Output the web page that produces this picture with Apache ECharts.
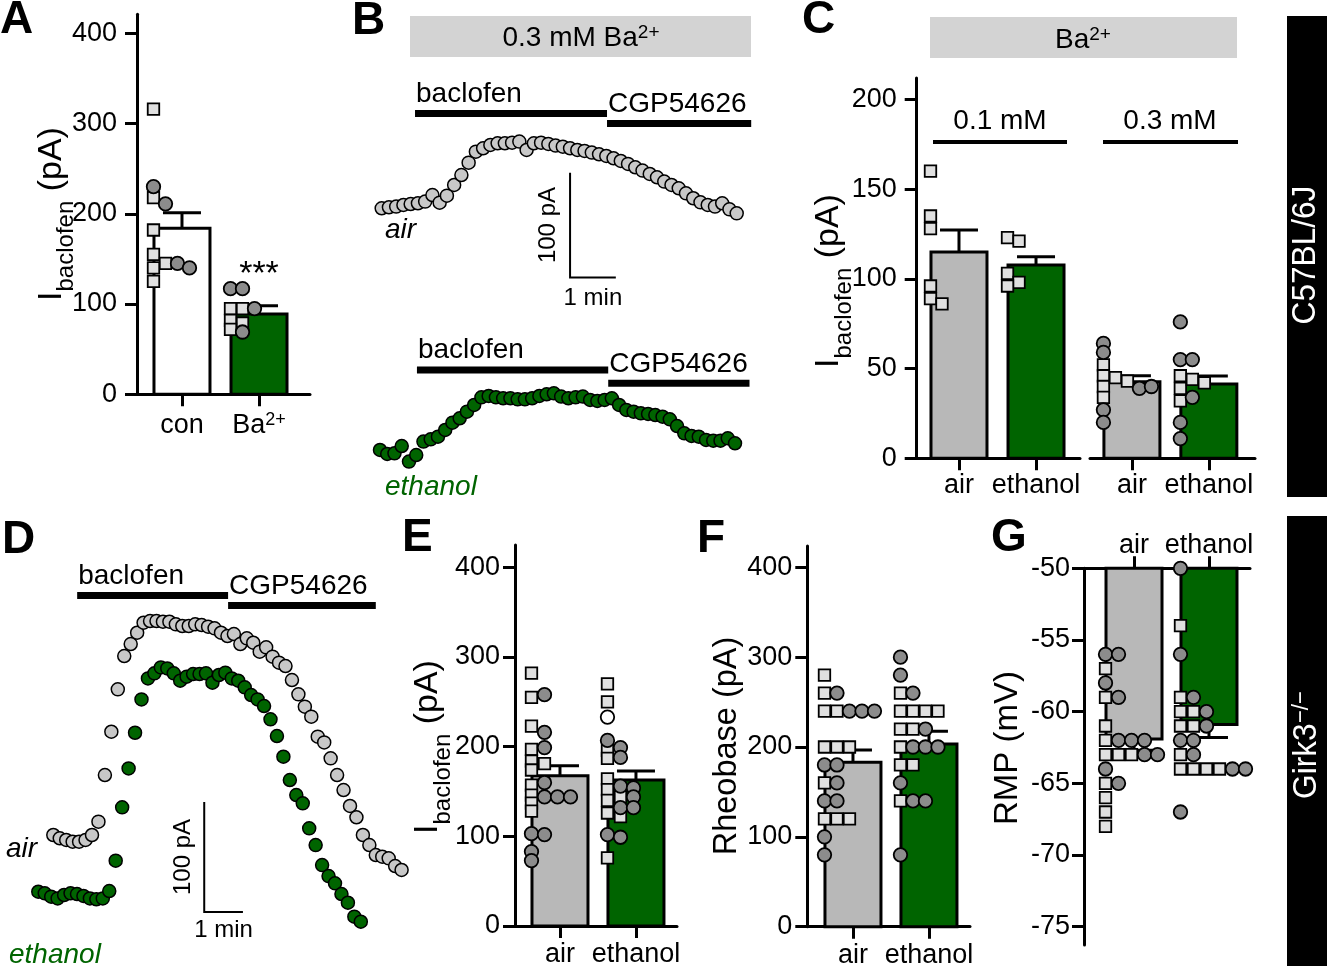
<!DOCTYPE html>
<html><head><meta charset="utf-8"><title>Figure</title>
<script src="https://cdn.jsdelivr.net/npm/echarts@6.0.0/dist/echarts.min.js"></script>
<style>html,body{margin:0;padding:0;background:#fff;}#chart{width:1327px;height:966px;}</style>
</head><body><div id="chart"></div>
<script>
// ======================= DATA =======================
// Panel A : I_baclofen (pA), control vs Ba2+
const A_CATS = ['con', 'Ba2+'];
const A_MEAN = [184, 89];
const A_SEM = [17, 9];
// points: [value, column]
const A_SQUARES = [[[316,0],[218,0],[182,0],[155,0],[145,1],[140,0],[125,0]], [[95,0],[95,1],[82,0],[79,1],[72,0]]];
const A_CIRCLES = [[[230,0],[211,1],[145,2],[140,3]], [[117,0],[117,1],[95,2],[69,1]]];
const A_Y_TICKS = [0, 100, 200, 300, 400];

// Panel B : example traces in 0.3 mM Ba2+ (pA, relative to baseline)
const B_AIR = [0,1,1.6,3.2,4.1,4.8,6.4,12.7,5.4,12.1,22.3,31.8,43.6,54.1,57.3,60.5,62.1,62.1,62.7,63.7,55.7,62.1,62.7,61.5,59.9,58.9,57.3,55.7,54.8,53.2,51.6,50,47.8,45.2,42.4,39.2,36,32.8,29.6,25.5,22.3,19.1,14.3,9.6,5.7,3.2,1.6,4.8,-1,-4.8];
const B_ETH = [0,-3.8,-3.2,3.8,-11.1,-4.8,8,10.2,12.7,19.1,26.1,30.3,36.6,43,50.3,51.6,50.3,49.4,49.4,48.4,48.4,49.4,51.6,53.2,54.1,51,49.4,50.3,51,47.8,46.8,47.8,49.4,43,38.2,36.6,35,34.4,33.4,31.8,29.3,22.9,15.9,13.4,12.7,9.6,8.9,8.9,11.1,6.4];
const B_SAMPLE_S = 9.5;
const B_AIR_EPOCHS = [['baclofen', 4.6, 31.1], ['CGP54626', 31.1, 51.0]];
const B_ETH_EPOCHS = [['baclofen', 5.1, 31.5], ['CGP54626', 31.5, 51.0]];

// Panel C : I_baclofen in Ba2+ (0.1 / 0.3 mM)
const C_CATS = ['air', 'ethanol'];
const C_GROUPS = ['0.1 mM', '0.3 mM'];
const C01_MEAN = [115, 107.7];
const C01_SEM = [12.2, 4.6];
const C03_MEAN = [42.7, 41.4];
const C03_SEM = [3.3, 4.5];
const C01_SQUARES = [[[160,0],[135,0],[128,0],[96,0],[89,0],[86,1]], [[123,0],[121,1],[103,0],[98,1],[96,0]]];
const C01_CIRCLES = [[], []];
const C03_SQUARES = [[[52,0],[46,0],[40,0],[34,0],[45,1],[43,2]], [[46,0],[39,0],[32,0],[44,1],[42,2]]];
const C03_CIRCLES = [[[64,0],[59,0],[27,0],[20,0],[39,3],[40,4]], [[76,0],[55,0],[55,1],[34,1],[20,0],[11,0]]];
const C_Y_TICKS = [0, 50, 100, 150, 200];

// Panel D : Girk3-/- example traces (pA, relative to baseline)
const D_AIR = [0,-3,-4.5,-6.1,-6.1,-4.5,0,12.1,54.5,93.9,132.4,162.7,173.6,183.9,193,194.5,194.5,193.9,193.9,191.5,190,190,191.5,190.9,189.4,187.9,183.9,180.9,182.7,173.6,178.8,174.8,166.7,170.6,162.1,156.7,153.6,140.9,127.9,116.7,107.6,89.4,84.2,69.7,54.5,40.9,26.4,16.1,0,-9.1,-18.2,-19.7,-21.2,-28.2,-31.8];
const D_ETH = [0,-1.5,-4.5,-6.1,-3,-1.5,-2.1,-3.9,-6.1,-6.9,-6.1,0.6,28.2,76.7,112.1,144.5,174.8,193.9,198.5,203.9,203,198.5,191.8,195.5,197.9,197.9,198.5,190,197,199.1,193.9,191.8,185.8,178.8,174.8,168.8,156.7,141.5,122.7,101.5,87.9,80.3,57.6,42.4,24.2,14.2,7.6,-2.1,-10,-22.7,-27.3];
const D_SAMPLE_S = 10;
const D_EPOCHS = [['baclofen', 3.7, 27.1], ['CGP54626', 27.1, 50.0]];

// Panel E : I_baclofen (Girk3-/-)
const E_MEAN = [167.6, 162.8];
const E_SEM = [11.2, 10.1];
const E_SQUARES = [[[282,0],[255,0],[223,0],[197,0],[184,0],[181,1],[174,0],[157,0],[146,0],[137,0],[128,0]],
                   [[270,0],[250,0],[196,0],[187,0],[164,0],[152,0],[144,1],[140,0],[126,0],[122,1],[76,0]]];
const E_CIRCLES = [[[258,1],[216,1],[199,1],[160,1],[144,1],[144,2],[144,3],[103,0],[102,1],[83,0],[73,0]],
                   [[207,0],[199,1],[188,1],[156,1],[154,2],[144,2],[132,1],[132,2],[102,0],[99,1]]];
const E_OPEN = [[], [[233,0]]];
const EF_Y_TICKS = [0, 100, 200, 300, 400];

// Panel F : Rheobase (pA)
const F_MEAN = [183, 203.3];
const F_SEM = [13.7, 14.1];
const F_SQUARES = [[[280,0],[260,0],[240,0],[240,1],[200,0],[200,1],[200,2],[160,0],[120,0],[120,1],[120,2]],
                   [[260,0],[240,0],[240,1],[240,2],[240,3],[220,0],[220,1],[200,0],[180,0],[180,1],[140,0]]];
const F_CIRCLES = [[[260,1],[240,2],[240,3],[240,4],[180,0],[180,1],[160,1],[140,0],[140,1],[100,0],[80,0]],
                   [[300,0],[280,0],[260,1],[220,2],[200,1],[200,2],[200,3],[160,0],[140,1],[140,2],[80,0]]];

// Panel G : RMP (mV)
const G_MEAN = [-61.9, -60.9];
const G_SEM = [0.8, 0.9];
const G_SQUARES = [[[-57,0],[-59,0],[-61,0],[-62,0],[-63,0],[-63,1],[-63,2],[-65,0],[-66,0],[-67,0],[-68,0]],
                   [[-54,0],[-59,0],[-60,0],[-60,1],[-61,0],[-61,1],[-63,0],[-64,0],[-64,1],[-64,2],[-64,3]]];
const G_CIRCLES = [[[-56,0],[-56,1],[-58,0],[-59,1],[-62,1],[-62,2],[-62,3],[-63,3],[-63,4],[-64,0],[-65,1]],
                   [[-50,0],[-56,0],[-59,1],[-60,2],[-61,2],[-62,0],[-62,1],[-63,1],[-64,4],[-64,5],[-67,0]]];
const G_Y_TICKS = [-75, -70, -65, -60, -55, -50];

// ======================= STYLE =======================
const FONT = "'Liberation Sans', Arial, Helvetica, sans-serif";
const BLACK = '#000';
const GRAY_BAR = '#b8b8b8';
const GREEN = '#006400';
const CIRCLE_FILL = '#8c8c8c';
const SQUARE_FILL = '#e0e0e0';
const TRACE_GRAY = '#c8c8c8';
const BAR_W = 56, CAP_W = 38, COL0 = -28.5;

const option = { animation: false, backgroundColor: '#fff', grid: [], xAxis: [], yAxis: [], series: [], graphic: { elements: [] } };

function richSup(size, col) {
  const s2 = Math.round(size * 0.67);
  const c = col || BLACK;
  return {
    n: { fontSize: size, fontFamily: FONT, color: c, fill: c, verticalAlign: 'top', lineHeight: size, padding: [1, 0, 0, 0] },
    p: { fontSize: s2, fontFamily: FONT, color: c, fill: c, verticalAlign: 'top', lineHeight: s2 }
  };
}
function supText(s) {
  const m = s.match(/^(.*?)(\d\+)$/);
  return m ? '{n|' + m[1] + '}{p|' + m[2] + '}' : '{n|' + s + '}';
}

function addGrid(rect, xr, yr) {
  const gi = option.grid.length;
  option.grid.push({ left: rect[0], top: rect[1], width: rect[2], height: rect[3], containLabel: false, outerBoundsMode: 'none' });
  option.xAxis.push({ gridIndex: gi, type: 'value', min: xr[0], max: xr[1], show: false, splitLine: { show: false } });
  option.yAxis.push({ gridIndex: gi, type: 'value', min: yr[0], max: yr[1], show: false, splitLine: { show: false } });
  return gi;
}

function barPanel(p) {
  const gi = addGrid(p.rect, p.xr, p.yr);
  const pxPerUnit = p.rect[2] / (p.xr[1] - p.xr[0]);
  const idx = p.cats.map((c, i) => i);
  const ax = option.xAxis[gi], ay = option.yAxis[gi];
  Object.assign(ax, {
    show: true, position: p.top ? 'top' : 'bottom',
    axisLine: { show: true, onZero: false, lineStyle: { color: BLACK, width: 3 } },
    axisTick: { show: true, inside: false, length: 12, customValues: idx, lineStyle: { color: BLACK, width: 3 } },
    axisLabel: { show: true, customValues: idx, margin: p.xLabelMargin, formatter: v => supText(p.cats[Math.round(v)]), rich: richSup(27) }
  });
  Object.assign(ay, {
    show: p.showY !== false,
    axisLine: { show: true, onZero: false, lineStyle: { color: BLACK, width: 3 } },
    axisTick: { show: true, inside: false, length: 12, customValues: p.yTicks, lineStyle: { color: BLACK, width: 3 } },
    axisLabel: { show: true, customValues: p.yTicks, margin: p.yLabelMargin, color: BLACK, fontSize: 27, fontFamily: FONT }
  });
  const base = p.base || 0, dir = p.dir || 1;
  option.series.push({
    type: 'custom', xAxisIndex: gi, yAxisIndex: gi, clip: false, silent: true, z: 2,
    data: p.means.map((m, i) => [i, m, p.sems[i]]),
    renderItem: (params, api) => {
      const i = api.value(0), m = api.value(1), s = api.value(2);
      const pb = api.coord([i, base]), pm = api.coord([i, m]), pe = api.coord([i, m + dir * s]);
      return { type: 'group', children: [
        { type: 'line', shape: { x1: pm[0], y1: pm[1], x2: pe[0], y2: pe[1] }, style: { stroke: BLACK, lineWidth: 3 } },
        { type: 'line', shape: { x1: pe[0] - CAP_W / 2, y1: pe[1], x2: pe[0] + CAP_W / 2, y2: pe[1] }, style: { stroke: BLACK, lineWidth: 3 } },
        { type: 'rect', shape: { x: pb[0] - BAR_W / 2, y: Math.min(pb[1], pm[1]), width: BAR_W, height: Math.abs(pb[1] - pm[1]) },
          style: { fill: p.fills[i], stroke: BLACK, lineWidth: 3 } }
      ] };
    }
  });
  const step = p.step || 12.5;
  const toPts = groups => {
    const out = [];
    groups.forEach((g, k) => g.forEach(([v, col]) => out.push([k + (COL0 + col * step) / pxPerUnit, v])));
    return out;
  };
  const scat = (groups, symbol, size, fill) => ({
    type: 'scatter', xAxisIndex: gi, yAxisIndex: gi, clip: false, silent: true, z: 4,
    symbol, symbolSize: size, data: toPts(groups),
    itemStyle: { color: fill, borderColor: BLACK, borderWidth: 1.8, opacity: 1 }
  });
  option.series.push(scat(p.squares, 'rect', 11.5, SQUARE_FILL));
  option.series.push(scat(p.circles, 'circle', 13.5, CIRCLE_FILL));
  if (p.open) option.series.push(scat(p.open, 'circle', 13.5, '#fff'));
  return gi;
}

function traceSeries(gi, values, color) {
  return { type: 'scatter', xAxisIndex: gi, yAxisIndex: gi, clip: false, silent: true, z: 4,
    symbol: 'circle', symbolSize: 13, data: values.map((v, i) => [i, v]),
    itemStyle: { color, borderColor: BLACK, borderWidth: 1.5, opacity: 1 } };
}

function epochSeries(gi, epochs, levels) {
  return { type: 'custom', xAxisIndex: gi, yAxisIndex: gi, clip: false, silent: true, z: 3,
    data: epochs.map((e, i) => [e[1], e[2], levels[i]]),
    renderItem: (params, api) => {
      const s = api.coord([api.value(0), api.value(2)]), e = api.coord([api.value(1), api.value(2)]);
      const label = epochs[params.dataIndex][0];
      return { type: 'group', children: [
        { type: 'rect', shape: { x: s[0], y: s[1] - 3.5, width: e[0] - s[0], height: 7 }, style: { fill: BLACK } },
        { type: 'text', x: s[0] + 1, y: s[1] - 5.5,
          style: { text: label, fill: BLACK, fontSize: 28, fontFamily: FONT, textAlign: 'left', textVerticalAlign: 'bottom', align: 'left', verticalAlign: 'bottom' } }
      ] };
    } };
}

function scaleBarSeries(gi, x0, y0, pA, samplesPerMin, labelDx, labelDy) {
  return { type: 'custom', xAxisIndex: gi, yAxisIndex: gi, clip: false, silent: true, z: 3,
    data: [[x0, y0, x0 + samplesPerMin, y0 + pA]],
    renderItem: (params, api) => {
      const p0 = api.coord([api.value(0), api.value(1)]);
      const p1 = api.coord([api.value(0), api.value(3)]);
      const p2 = api.coord([api.value(2), api.value(1)]);
      return { type: 'group', children: [
        { type: 'polyline', shape: { points: [p1, p0, p2] }, style: { stroke: BLACK, lineWidth: 2, fill: null } },
        { type: 'text', x: p0[0] + labelDx, y: (p0[1] + p1[1]) / 2, rotation: Math.PI / 2,
          style: { text: pA + ' pA', fill: BLACK, fontSize: 24, fontFamily: FONT, textAlign: 'center', textVerticalAlign: 'middle', align: 'center', verticalAlign: 'middle' } },
        { type: 'text', x: (p0[0] + p2[0]) / 2, y: p0[1] + labelDy,
          style: { text: '1 min', fill: BLACK, fontSize: 24, fontFamily: FONT, textAlign: 'center', textVerticalAlign: 'middle', align: 'center', verticalAlign: 'middle' } }
      ] };
    } };
}

// ======================= PANELS =======================
// A
barPanel({ rect: [137, 14.3, 173, 380], xr: [-0.584, 1.662], yr: [0, 421], yTicks: A_Y_TICKS,
  cats: A_CATS, means: A_MEAN, sems: A_SEM, fills: ['#ffffff', GREEN], squares: A_SQUARES, circles: A_CIRCLES,
  xLabelMargin: 17, yLabelMargin: 20, step: 12 });

// B traces
const gBa = addGrid([367.2, 103.6, 384, 209.4], [-2, 51], [-100, 100]);
option.series.push(traceSeries(gBa, B_AIR, TRACE_GRAY));
option.series.push(epochSeries(gBa, B_AIR_EPOCHS, [90.5, 81]));
option.series.push(scaleBarSeries(gBa, 26, -66, 100, 60 / B_SAMPLE_S, -22, 21));
const gBe = addGrid([365.5, 345.3, 384, 167.5], [-2, 51], [-60, 100]);
option.series.push(traceSeries(gBe, B_ETH, GREEN));
option.series.push(epochSeries(gBe, B_ETH_EPOCHS, [76.4, 63.7]));

// C (broken x axis: two grids sharing the same y scale)
barPanel({ rect: [916.7, 78, 163.3, 380.3], xr: [-0.549, 1.571], yr: [0, 211.9], yTicks: C_Y_TICKS,
  cats: C_CATS, means: C01_MEAN, sems: C01_SEM, fills: [GRAY_BAR, GREEN], squares: C01_SQUARES, circles: C01_CIRCLES,
  xLabelMargin: 13, yLabelMargin: 20, step: 11.5 });
barPanel({ rect: [1090, 78, 165, 380.3], xr: [-0.545, 1.6], yr: [0, 211.9], yTicks: C_Y_TICKS, showY: false,
  cats: C_CATS, means: C03_MEAN, sems: C03_SEM, fills: [GRAY_BAR, GREEN], squares: C03_SQUARES, circles: C03_CIRCLES,
  xLabelMargin: 13, yLabelMargin: 20, step: 12 });

// D traces
const gDa = addGrid([40.4, 593, 374.1, 308], [-2, 56], [-60, 220]);
option.series.push(traceSeries(gDa, D_AIR, TRACE_GRAY));
option.series.push(epochSeries(gDa, D_EPOCHS, [217.7, 208.6]));
option.series.push(scaleBarSeries(gDa, 23.4, -70, 100, 60 / D_SAMPLE_S, -21, 18));
const gDe = addGrid([25.4, 649.7, 374.1, 308], [-2, 56], [-60, 220]);
option.series.push(traceSeries(gDe, D_ETH, GREEN));

// E
barPanel({ rect: [515, 545, 162, 381], xr: [-0.592, 1.54], yr: [0, 424.9], yTicks: EF_Y_TICKS,
  cats: C_CATS, means: E_MEAN, sems: E_SEM, fills: [GRAY_BAR, GREEN], squares: E_SQUARES, circles: E_CIRCLES, open: E_OPEN,
  xLabelMargin: 14, yLabelMargin: 15, step: 13 });
// F
barPanel({ rect: [807.3, 546, 162.7, 380.7], xr: [-0.601, 1.54], yr: [0, 423.7], yTicks: EF_Y_TICKS,
  cats: C_CATS, means: F_MEAN, sems: F_SEM, fills: [GRAY_BAR, GREEN], squares: F_SQUARES, circles: F_CIRCLES,
  xLabelMargin: 14, yLabelMargin: 15, step: 12.5 });
// G (bars hang from -50 mV, x axis on top)
barPanel({ rect: [1084, 568.3, 166, 376.7], xr: [-0.667, 1.547], yr: [-76.28, -50], yTicks: G_Y_TICKS, top: true, base: -50, dir: -1,
  cats: C_CATS, means: G_MEAN, sems: G_SEM, fills: [GRAY_BAR, GREEN], squares: G_SQUARES, circles: G_CIRCLES,
  xLabelMargin: 10, yLabelMargin: 14, step: 13 });

// ======================= ANNOTATIONS =======================
const GE = option.graphic.elements;
function gText(x, y, text, o) {
  o = o || {};
  const align = o.align || 'center', valign = o.valign || 'middle';
  GE.push({ type: 'text', x, y, rotation: o.rotation || 0, scaleX: o.scaleX || 1, silent: true, z: 100,
    style: { text, fill: o.color || BLACK, fontSize: o.size || 27, fontFamily: FONT, fontWeight: o.weight || 'normal', fontStyle: o.fstyle || 'normal',
      textAlign: align, textVerticalAlign: valign, align: align, verticalAlign: valign, rich: o.rich } });
}
function gRect(x, y, w, h, fill) { GE.push({ type: 'rect', silent: true, z: 50, shape: { x, y, width: w, height: h }, style: { fill } }); }
function gLine(x1, y1, x2, y2, w) { GE.push({ type: 'line', silent: true, z: 50, shape: { x1, y1, x2, y2 }, style: { stroke: BLACK, lineWidth: w } }); }

// panel letters
[['A', 0, 20], ['B', 352, 21], ['C', 802, 20], ['D', 2, 540], ['E', 402, 538], ['F', 697, 539], ['G', 991, 538]]
  .forEach(([t, x, y]) => gText(x, y, t, { size: 46, weight: 'bold', align: 'left' }));

// header boxes
gRect(410, 16, 341, 41, '#d3d3d3');
gText(581, 37.5, '{n|0.3 mM Ba}{p|2+}', { rich: richSup(28) });
gRect(930, 17, 307, 41, '#d3d3d3');
gText(1083, 39, '{n|Ba}{p|2+}', { rich: richSup(28) });

// strain side bars
gRect(1287, 16, 40, 481, BLACK);
gText(1306, 255, 'C57BL/6J', { color: '#fff', size: 34, rotation: Math.PI / 2, scaleX: 0.93 });
gRect(1287, 516, 40, 450, BLACK);
const girkRich = richSup(34, '#fff'); girkRich.p.fontSize = 24; girkRich.p.lineHeight = 24;
gText(1306, 745, '{n|Girk3}{p|\u2212/\u2212}', { color: '#fff', rich: girkRich, rotation: Math.PI / 2, scaleX: 0.93 });

// C group labels
gText(1000, 121, C_GROUPS[0], { size: 28 });
gLine(933, 142, 1067, 142, 4);
gText(1170, 121, C_GROUPS[1], { size: 28 });
gLine(1103, 142, 1238, 142, 4);

// significance
gText(259, 275, '***', { size: 34 });

// trace labels
gText(385, 230, 'air', { align: 'left', fstyle: 'italic', size: 28 });
gText(385, 487, 'ethanol', { align: 'left', fstyle: 'italic', size: 28, color: GREEN });
gText(6, 849, 'air', { align: 'left', fstyle: 'italic', size: 28 });
gText(9, 955, 'ethanol', { align: 'left', fstyle: 'italic', size: 28, color: GREEN });

// y-axis titles
const TITLE_RICH = {
  m: { fontSize: 34, fontFamily: FONT, color: BLACK, fill: BLACK, verticalAlign: 'top', lineHeight: 34 },
  s: { fontSize: 24, fontFamily: FONT, color: BLACK, fill: BLACK, verticalAlign: 'top', lineHeight: 24, padding: [20, 0, 0, 0] }
};
const IBAC = '{m|I}{s|baclofen}{m| (pA)}';
gText(51.5, 214, IBAC, { rich: TITLE_RICH, rotation: Math.PI / 2 });
gText(829, 281, IBAC, { rich: TITLE_RICH, rotation: Math.PI / 2 });
gText(428, 747, IBAC, { rich: TITLE_RICH, rotation: Math.PI / 2 });
gText(727, 746, 'Rheobase (pA)', { size: 32.5, rotation: Math.PI / 2 });
gText(1008, 748, 'RMP (mV)', { size: 33, rotation: Math.PI / 2 });

const chart = echarts.init(document.getElementById('chart'), null, { renderer: 'canvas' });
chart.setOption(option);
</script>
</body></html>
